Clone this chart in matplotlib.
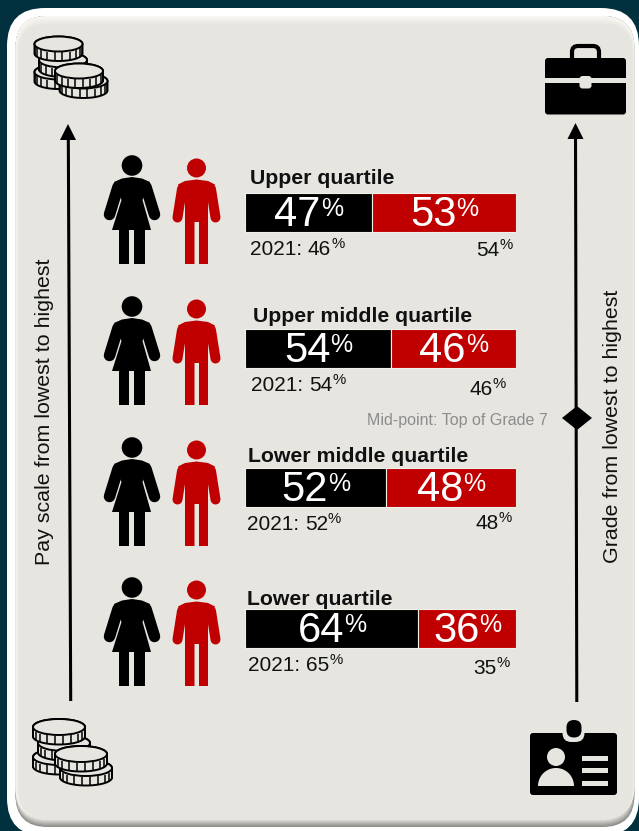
import numpy as np
import matplotlib
matplotlib.use('Agg')
import matplotlib.pyplot as plt
from matplotlib.patches import Circle, FancyBboxPatch, Polygon, Rectangle, Ellipse

plt.rcParams['font.family'] = ['Liberation Sans', 'DejaVu Sans']

# Workforce split by pay quartile
quartiles = ['Upper quartile', 'Upper middle quartile', 'Lower middle quartile', 'Lower quartile']
women = [47, 54, 52, 64]
men = [53, 46, 48, 36]
women_2021 = [46, 54, 52, 65]
men_2021 = [54, 46, 48, 35]

# Row layout in pixels
W, H = 639, 831
bar_left, bar_width = 245, 271
bar_top = [193, 329, 468, 609]
bar_height = 39
figure_top = [155, 296, 437, 577]
title_xy = [(250, 184), (253, 322), (248, 462), (247, 605)]
women_prev_xy = [(250, 255), (251, 391), (247, 530), (248, 671)]
men_prev_xy = [(476, 256), (469, 395), (475, 529), (473, 674)]

BG = '#01303f'
CARD = '#e6e5e0'
RED = '#c00000'

fig = plt.figure(figsize=(W / 100, H / 100), dpi=100, facecolor=BG)


def pixel_axes(z):
    a = fig.add_axes([0, 0, 1, 1], zorder=z)
    a.set_xlim(0, W)
    a.set_ylim(H, 0)
    a.axis('off')
    return a


ax = pixel_axes(0)
top_ax = pixel_axes(2)


def card(x0, y0, x1, y1, color, r=35):
    ax.add_patch(FancyBboxPatch((x0, y0), x1 - x0, y1 - y0, boxstyle=f'round,pad=0,rounding_size={r}',
                                fc=color, ec='none'))


def mix(a, b, t):
    a, b = np.array(matplotlib.colors.to_rgb(a)), np.array(matplotlib.colors.to_rgb(b))
    return a + (b - a) * t


# Card with bevelled edge
card(7, 8, 639, 836, '#ffffff', 38)
for i in range(7):
    t = i / 6
    card(15.5, 16, 634.5 - t * 2, 827 - t * 7, mix('#8d8d89', CARD, t), 32)
for i in range(7):
    t = i / 6
    card(15.5 + t * 3, 16 + t * 8, 634.5 - t * 2, 818, mix('#f8f7f2', CARD, t), 32 - t * 3)


def text_width(s, size, weight='normal'):
    t = top_ax.text(0, 0, s, fontsize=size, fontweight=weight)
    w = t.get_window_extent(fig.canvas.get_renderer()).width
    t.remove()
    return w


def pct(x, y, value, size, sup_size, raise_px, color):
    # number with a raised percent sign, x is the left edge, y the baseline
    s = str(value)
    top_ax.text(x, y, s, fontsize=size, color=color, va='baseline', ha='left')
    top_ax.text(x + text_width(s, size), y - raise_px, '%', fontsize=sup_size, color=color, va='baseline', ha='left')


def shifted(points, d):
    return [(x, y + d) for x, y in points]


def limb(x0, y0, x1, y1, d, width_px, color):
    ax.plot([x0, x1], [y0 + d, y1 + d], color=color, lw=width_px * 0.72, solid_capstyle='round')


def woman(top, color='black'):
    d = top - 155
    ax.add_patch(Circle((132, 165.5 + d), 10.3, fc=color, ec='none'))
    limb(118, 187, 109.5, 214.5, d, 11.5, color)
    limb(146, 187, 154.5, 214.5, d, 11.5, color)
    ax.add_patch(Polygon(shifted([(114, 182), (122, 178.5), (132, 177), (142, 178.5), (150, 182),
                                  (142.5, 200), (151, 230), (145, 230), (145, 264), (134, 264),
                                  (134, 230), (129, 230), (129, 264), (119, 264), (119, 230),
                                  (112, 230), (121.5, 200)], d),
                         closed=True, fc=color, ec='none'))


def man(top, color=RED):
    d = top - 155
    ax.add_patch(Circle((196.5, 168 + d), 9.5, fc=color, ec='none'))
    limb(182, 189, 177.5, 217.5, d, 10, color)
    limb(211, 189, 215.5, 217.5, d, 10, color)
    ax.add_patch(Polygon(shifted([(178, 184.5), (185, 181), (196.5, 179.5), (208, 181), (215, 184.5),
                                  (208, 200), (208, 264), (199, 264), (199, 222), (194.5, 222),
                                  (194.5, 264), (185, 264), (185, 200)], d),
                         closed=True, fc=color, ec='none'))


def coin(cx, cy, z, rx=24.5, ry=7.5, h=9.5):
    a = np.linspace(0, np.pi, 60)
    ex, ey = cx + rx * np.cos(a), cy + ry * np.sin(a)
    body = np.r_[np.c_[ex, ey + h], np.c_[ex[::-1], cy - ry * np.sin(a[::-1])]]
    ax.add_patch(Polygon(body, closed=True, fc=CARD, ec='black', lw=1.4, zorder=z))
    for ang in np.linspace(0.14, np.pi - 0.14, 10):
        x, y = cx + rx * np.cos(ang), cy + ry * np.sin(ang)
        ax.plot([x, x], [y + 1, y + h], color='black', lw=1.1, solid_capstyle='butt', zorder=z + 0.1)
    ax.add_patch(Ellipse((cx, cy), rx * 2, ry * 2, fc=CARD, ec='black', lw=1.4, zorder=z + 0.2))


def coins(centres, **kw):
    for n, c in enumerate(centres):
        coin(*c, 3 + n, **kw)


coins([(58.5, 72), (63, 60), (58.5, 44), (83.5, 81), (79, 71)], rx=24, ry=7.5, h=9.5)
coins([(59, 757), (64, 743), (59, 727), (86, 768), (81, 754)], rx=26, ry=8, h=9.5)

# Briefcase
ax.add_patch(FancyBboxPatch((572, 46), 27, 24, boxstyle='round,pad=0,rounding_size=6', fc='none', ec='black', lw=3))
ax.add_patch(FancyBboxPatch((545, 58), 81, 56.5, boxstyle='round,pad=0,rounding_size=3', fc='black', ec='none'))
ax.add_patch(Rectangle((545, 78), 81, 5, fc=CARD, ec='none'))
ax.add_patch(FancyBboxPatch((579.5, 76), 12, 12.5, boxstyle='round,pad=0,rounding_size=3', fc=CARD, ec='none'))

# ID badge
ax.add_patch(FancyBboxPatch((530, 733), 87, 62, boxstyle='round,pad=0,rounding_size=3', fc='black', ec='none'))
ax.add_patch(FancyBboxPatch((562.5, 725), 22, 17, boxstyle='round,pad=0,rounding_size=9', fc=CARD, ec='none'))
ax.add_patch(FancyBboxPatch((566.5, 720), 15, 17.5, boxstyle='round,pad=0,rounding_size=7.4', fc='black', ec='none'))
ax.add_patch(Circle((556, 757), 9, fc=CARD, ec='none'))
ang = np.linspace(np.pi, 2 * np.pi, 40)
ax.add_patch(Polygon(np.c_[556 + 18 * np.cos(ang), 786 + 18 * np.sin(ang)], closed=True, fc=CARD, ec='none'))
for y0 in (756, 768, 781):
    ax.add_patch(Rectangle((582, y0), 26, 4.7, fc=CARD, ec='none'))

# Scale arrows
ax.plot([70.7, 68.3], [701, 135], color='black', lw=2.2, solid_capstyle='butt')
ax.add_patch(Polygon([(68, 124), (76, 140), (60, 140)], closed=True, fc='black', ec='none'))
ax.plot([576.8, 575.5], [702, 135], color='black', lw=2.2, solid_capstyle='butt')
ax.add_patch(Polygon([(575.5, 123), (583.5, 139), (567.5, 139)], closed=True, fc='black', ec='none'))
ax.add_patch(Polygon([(562, 418), (577, 406), (592, 418), (577, 430)], closed=True, fc='black', ec='none'))

ax.text(45, 411.5, 'Pay scale from lowest to highest', rotation=90, fontsize=15.4, ha='center', va='center', color='#111111')
ax.text(612, 426, 'Grade from lowest to highest', rotation=90, fontsize=15.4, ha='center', va='center', color='#111111')
ax.text(548, 420, 'Mid-point: Top of Grade 7', fontsize=11.55, color='#8c8c8c', ha='right', va='center')

for top in figure_top:
    woman(top)
    man(top)

# Stacked bars on a 0-100 scale
bar_ax = fig.add_axes([bar_left / W, 0, bar_width / W, 1], zorder=1)
bar_ax.set_xlim(0, 100)
bar_ax.set_ylim(H, 0)
bar_ax.axis('off')
centres = [t + bar_height / 2 for t in bar_top]
bar_ax.barh(centres, women, height=bar_height, color='black', edgecolor='#f0efea', linewidth=0.8)
bar_ax.barh(centres, men, left=women, height=bar_height, color=RED, edgecolor='#f0efea', linewidth=0.8)

big, big_sup = 30, 18
w_big, w_sup = text_width('00', big), text_width('%', big_sup)
for i, q in enumerate(quartiles):
    top_ax.text(*title_xy[i], q, fontsize=15.3, fontweight='bold', color='#111111', va='baseline', ha='left')
    base = bar_top[i] + 33
    px_w = women[i] * bar_width / 100
    px_m = men[i] * bar_width / 100
    pct(bar_left + (px_w - w_big - w_sup) / 2, base, women[i], big, big_sup, 10, 'white')
    pct(bar_left + px_w + (px_m - w_big - w_sup) / 2, base, men[i], big, big_sup, 10, 'white')
    x, y = women_prev_xy[i]
    label = '2021: '
    top_ax.text(x, y, label, fontsize=15, color='#111111', va='baseline', ha='left')
    pct(x + text_width(label, 15), y, women_2021[i], 15, 10.8, 7, '#111111')
    pct(*men_prev_xy[i], men_2021[i], 15, 10.8, 7, '#111111')

fig.savefig('out.png', dpi=100, facecolor=BG)
